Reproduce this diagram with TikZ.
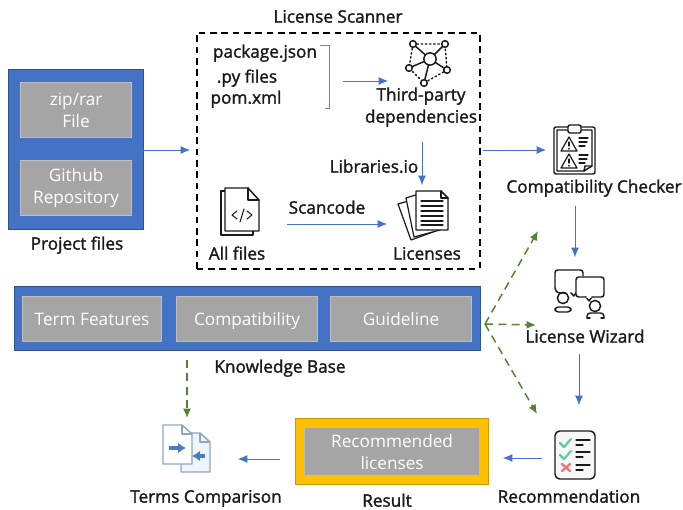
\documentclass[tikz,border=0pt]{standalone}
\usepackage{fontspec}
\setmainfont{Open Sans}
\newfontfamily\lblfont[FakeBold=1.6]{Open Sans}
\usetikzlibrary{arrows.meta}
\definecolor{bluefill}{HTML}{4472C4}
\definecolor{bluedge}{HTML}{2F528F}
\definecolor{greyfill}{HTML}{A5A5A5}
\definecolor{greyedge}{HTML}{BFBFBF}
\definecolor{arrowblue}{HTML}{4472C4}
\definecolor{arrowgreen}{HTML}{548235}
\definecolor{gold}{HTML}{FFC000}
\definecolor{ink}{HTML}{1A1A1A}
\definecolor{docedge}{HTML}{8FA5BC}
\definecolor{docblue}{HTML}{4A7EBB}
\definecolor{docfill}{HTML}{EEF5FC}
\definecolor{tick}{HTML}{5FC9A5}
\definecolor{cross}{HTML}{F0757A}
\tikzset{
  x=0.75pt,y=-0.75pt,
  lbl/.style={font=\lblfont\fontsize{12.9pt}{14pt}\selectfont,text=ink,inner sep=0pt,text height=10.5pt,text depth=2pt},
  outerbox/.style={draw=bluedge,fill=bluefill,line width=0.9pt,inner sep=0pt},
  greybox/.style={draw=greyedge,fill=greyfill,line width=0.9pt,inner sep=0pt,text=white,font=\fontsize{12.9pt}{16.5pt}\selectfont,align=center},
  kbitem/.style={draw=greyedge,fill=greyfill,line width=0.9pt,inner sep=0pt,text=white,font=\fontsize{12.9pt}{16.5pt}\selectfont,text height=11.5pt,text depth=1.5pt},
  flow/.style={draw=arrowblue,line width=0.7pt,-{Latex[length=7pt,width=6pt]}},
  kbflow/.style={draw=arrowgreen,line width=1.1pt,dash pattern=on 6pt off 4pt,-{Latex[length=7pt,width=6pt]}},
  icon/.style={draw=ink,line width=1.1pt,line join=round,line cap=round},
  thin icon/.style={draw=ink,line width=0.8pt,line cap=round},
}
\newcommand{\boxat}[7]{\node[#1,minimum width=#5*0.75pt-#3*0.75pt,minimum height=#6*0.75pt-#4*0.75pt,anchor=north west] (#2) at (#3,#4) {#7};}
\begin{document}
\begin{tikzpicture}
\useasboundingbox (0,0) rectangle (683,510);

% Project files
\boxat{outerbox}{project}{8}{69}{143}{229}{}
\boxat{greybox}{zip}{20}{82}{131}{137}{zip/rar\\File}
\boxat{greybox}{github}{20}{160}{131}{215}{Github\\Repository}
\node[lbl] (projectlbl) at (77,244) {Project files};

% License scanner
\boxat{draw=black,line width=1.2pt,dash pattern=on 5pt off 3.5pt,inner sep=0pt}{scanner}{196}{32}{479}{268}{}
\node[lbl] (scannerlbl) at (338,17) {License Scanner};
\node[lbl] (pkg) at (265,52) {package.json};
\node[lbl] (py) at (247,77) {.py files};
\node[lbl] (pom) at (246,98) {pom.xml};
\draw[draw=bluedge!70,line width=0.7pt] (320,45) -- (329,45) -- (329,108) -- (325,108);
\node[lbl] (third) at (421,95) {Third-party};
\node[lbl] (deps) at (421,117) {dependencies};
\node[lbl] (libio) at (374,167) {Libraries.io};
\node[lbl] (scancode) at (327,208) {Scancode};
\node[lbl] (licenses) at (427,254) {Licenses};
\node[lbl] (allfiles) at (237,254) {All files};

% network icon
\begin{scope}[icon]
  \coordinate (hub) at (430,59);
  \coordinate (n1) at (413,44);
  \coordinate (n2) at (445,44);
  \coordinate (n3) at (409,68);
  \coordinate (n4) at (447,70);
  \coordinate (n5) at (424,83);
  \draw (n1) -- (hub) (n2) -- (hub) (n3) -- (hub) (n4) -- (hub) (n5) -- (hub);
  \draw[dotted,line width=1.1pt] (n1) -- (n2) -- (n4) -- (n5) -- (n3) -- (n1);
  \draw[fill=white] (hub) circle (4.6pt);
  \foreach \n in {n1,n2,n3,n4,n5} \draw[fill=white] (\n) circle (2.5pt);
\end{scope}

% all files icon
\begin{scope}[icon]
  \draw (225,191) -- (221,191) -- (221,235) -- (253,235) -- (253,231);
  \draw[fill=white] (225,188) -- (248,188) -- (259,200) -- (259,231) -- (225,231) -- cycle;
  \draw (248,188) -- (248,200) -- (259,200);
  \draw[thin icon] (237,211) -- (232,215) -- (237,219);
  \draw[thin icon] (247,211) -- (252,215) -- (247,219);
  \draw[thin icon] (244,209) -- (240,222);
\end{scope}

% licenses icon
\begin{scope}[icon]
  \draw[fill=white,line width=0.9pt] (398,204) -- (419,198) -- (433,232) -- (411,240) -- cycle;
  \draw[fill=white,line width=0.9pt] (406,198) -- (425,192) -- (440,230) -- (414,237) -- cycle;
  \draw[fill=white] (416,191) -- (441,191) -- (448,198) -- (448,230) -- (416,230) -- cycle;
  \draw (441,191) -- (441,198) -- (448,198);
  \foreach \yy in {201,206,211,216,221,225} \draw[thin icon] (421,\yy) -- (443,\yy);
\end{scope}

% compatibility checker icon
\begin{scope}[icon]
  \draw[rounded corners=1.5pt] (554,127) rectangle (595,174);
  \draw (557,130) -- (592,130) -- (592,166) -- (584,171) -- (557,171) -- cycle;
  \draw (592,166) -- (585,166) -- (584,171);
  \draw[fill=white,rounded corners=1.5pt] (568,125) rectangle (581,133);
  \foreach \yy in {0,17} {
    \draw[line width=0.9pt] (569,137+\yy) -- (577,151+\yy) -- (561,151+\yy) -- cycle;
    \draw[thin icon] (569,142+\yy) -- (569,146+\yy);
    \draw[thin icon] (569,148.5+\yy) -- (569,149+\yy);
    \draw[thin icon] (579,138+\yy) -- (588,138+\yy);
    \draw[thin icon] (579,142+\yy) -- (587,142+\yy);
    \draw[thin icon] (579,146+\yy) -- (585,146+\yy);
  }
\end{scope}
\node[lbl] (checker) at (594,187) {Compatibility Checker};

% license wizard icon
\begin{scope}[icon]
  \draw[rounded corners=2pt] (583,276) -- (583,270) -- (555,270) -- (555,290) -- (558,293) -- (566,293);
  \draw (571,293) -- (574,296) -- (576,293);
  \draw[fill=white,rounded corners=2pt] (576,277) rectangle (604,297);
  \draw[fill=white] (586,297) -- (589,301) -- (592,297);
  \draw[draw=white,line width=1.3pt] (587,297) -- (591,297);
  \draw (563,298) circle (4.2pt);
  \draw[rounded corners=2.5pt] (555,312) -- (555,307) -- (571,307) -- (571,312) -- cycle;
  \draw (595,306) circle (4.2pt);
  \draw[rounded corners=2.5pt] (587,318) -- (587,313) -- (604,313) -- (604,318);
  \draw (587,318) -- (590,318) (601,318) -- (604,318);
\end{scope}
\node[lbl] (wizard) at (585,337) {License Wizard};

% recommendation icon
\begin{scope}[icon]
  \draw[fill=gray!6,rounded corners=3.5pt] (555,431) rectangle (595,479);
  \draw[draw=tick,line width=1.6pt] (560,443) -- (564,447) -- (571,439);
  \draw[draw=tick,line width=1.6pt] (560,455) -- (564,459) -- (571,451);
  \draw[draw=cross,line width=1.8pt] (562,464) -- (570,471) (570,464) -- (562,471);
  \draw[thin icon] (576,440) -- (590,440) (576,445) -- (583,445);
  \draw[thin icon] (576,452) -- (590,452) (576,457) -- (583,457);
  \draw[thin icon] (576,465) -- (590,465) (576,470) -- (583,470);
\end{scope}
\node[lbl] (recommendation) at (569,497) {Recommendation};

% Result
\boxat{draw=gold!80!black,fill=gold,line width=0.8pt,inner sep=0pt}{result}{295}{418}{488}{484}{}
\boxat{greybox}{reclic}{304}{427}{479}{475}{Recommended\\licenses}
\node[lbl] (resultlbl) at (387,501) {Result};

% Knowledge base
\boxat{outerbox}{kb}{14}{286}{480}{350}{}
\boxat{kbitem}{term}{22}{296}{161}{341}{Term Features}
\boxat{kbitem}{compat}{176}{296}{317}{341}{Compatibility}
\boxat{kbitem}{guide}{330}{296}{471}{341}{Guideline}
\node[lbl] (kblbl) at (280,367) {Knowledge Base};

% terms comparison icon
\begin{scope}[draw=docedge,line width=1.1pt,line join=round]
  \draw[fill=docfill] (181,433) -- (200,433) -- (210,442) -- (210,472) -- (181,472) -- cycle;
  \draw (200,433) -- (200,442) -- (210,442);
  \draw[fill=white] (163,425) -- (182,425) -- (192,434) -- (192,464) -- (163,464) -- cycle;
  \draw (182,425) -- (182,434) -- (192,434);
\end{scope}
\draw[docblue,line width=2.4pt,-{Latex[length=6pt,width=8pt]}] (169,448) -- (186,448);
\draw[docblue,line width=2.4pt,-{Latex[length=6pt,width=8pt]}] (205,456) -- (192,456);

\node[lbl] (termscmp) at (206,497) {Terms Comparison};

% free ends of connectors
\coordinate (a1s) at (143,150); \coordinate (a1e) at (190,150);
\coordinate (a2s) at (343,81);  \coordinate (a2e) at (388,81);
\coordinate (a3s) at (422,142); \coordinate (a3e) at (422,185);
\coordinate (a4s) at (287,224); \coordinate (a4e) at (387,224);
\coordinate (a5s) at (483,150); \coordinate (a5e) at (546,150);
\coordinate (a6s) at (575,206); \coordinate (a6e) at (575,257);
\coordinate (a7s) at (579,354); \coordinate (a7e) at (579,405);
\coordinate (a8s) at (542,458); \coordinate (a8e) at (503,458);
\coordinate (a9s) at (280,459); \coordinate (a9e) at (238,459);
\coordinate (g0) at (485,324);
\coordinate (g1) at (538,231);
\coordinate (g2) at (536,325);
\coordinate (g3) at (537,414);
\coordinate (g4s) at (187,360); \coordinate (g4e) at (187,418);

\foreach \s/\e in {a1s/a1e,a2s/a2e,a3s/a3e,a4s/a4e,a5s/a5e,a6s/a6e,a7s/a7e,a8s/a8e,a9s/a9e}
  \draw[flow] (\s) -- (\e);
\foreach \e in {g1,g2,g3} \draw[kbflow] (g0) -- (\e);
\draw[kbflow] (g4s) -- (g4e);
\end{tikzpicture}
\end{document}
